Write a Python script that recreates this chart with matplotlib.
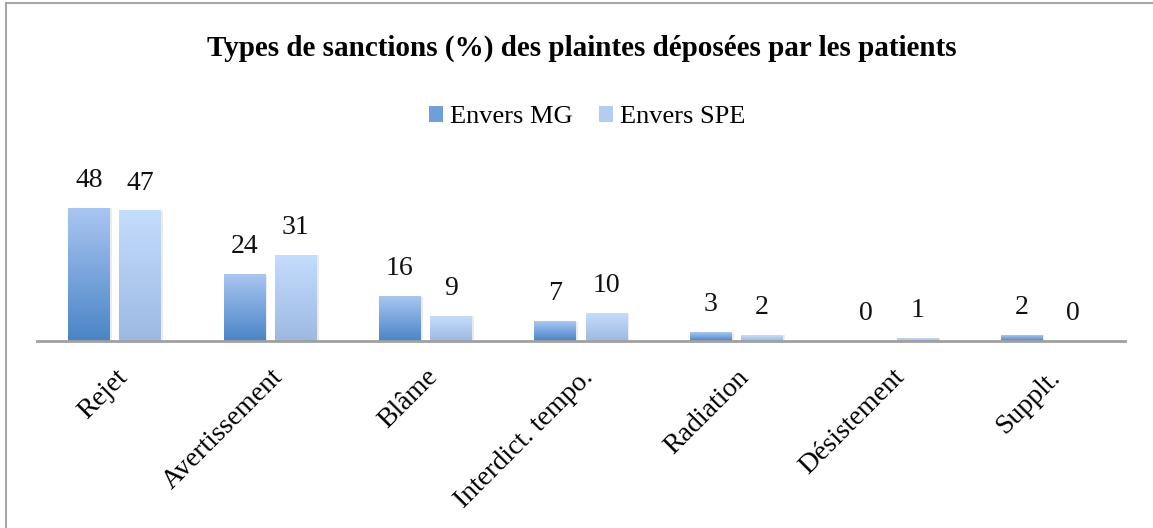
import numpy as np
import matplotlib.pyplot as plt
from matplotlib.colors import LinearSegmentedColormap
from matplotlib.patches import Patch, Rectangle
from matplotlib.lines import Line2D

plt.rcParams['font.family'] = ['Liberation Serif', 'DejaVu Serif']

categories = ['Rejet', 'Avertissement', 'Blâme', 'Interdict. tempo.',
              'Radiation', 'Désistement', 'Supplt.']
envers_mg = [48, 24, 16, 7, 3, 0, 2]
envers_spe = [47, 31, 9, 10, 2, 1, 0]
series_names = ['Envers MG', 'Envers SPE']

W, H = 1153, 528
fig = plt.figure(figsize=(W / 100, H / 100), dpi=100)

# plot area: baseline at y=341px, 2.77 px per unit
ymax = 62
px_per_unit = 2.77
ax_h = ymax * px_per_unit
ax = fig.add_axes([37 / W, (H - 341) / H, 1088 / W, ax_h / H])

cmap_mg = LinearSegmentedColormap.from_list('mg', ['#4a84c6', '#a9c6f2'])
cmap_spe = LinearSegmentedColormap.from_list('spe', ['#9db9e2', '#c4dcfd'])
grad = np.linspace(0, 1, 256).reshape(-1, 1)

x = np.arange(len(categories))
width = 0.27
off = 0.165

for vals, sign, cm in [(envers_mg, -1, cmap_mg), (envers_spe, 1, cmap_spe)]:
    bars = ax.bar(x + sign * off, vals, width, color='none', edgecolor='none')
    for b, v in zip(bars, vals):
        x0 = b.get_x()
        if v > 0:
            # soft shadow
            ax.add_patch(Rectangle((x0 + 0.012, 0), width, v, color='#000000',
                                   alpha=0.08, lw=0, zorder=1))
            ax.imshow(grad, extent=[x0, x0 + width, 0, v], origin='lower',
                      aspect='auto', cmap=cm, zorder=2)
        ax.annotate(str(v), (x0 + width / 2, v), xytext=(0, 20),
                    textcoords='offset points', ha='center', va='center',
                    fontsize=20, color='#111111')

ax.set_xlim(-0.5, len(categories) - 0.5)
ax.set_ylim(0, ymax)
ax.set_xticks(x)
ax.set_xticklabels(categories, rotation=45, ha='right', rotation_mode='anchor',
                   fontsize=20)
ax.tick_params(axis='x', length=0, pad=17)
ax.set_yticks([])
for s in ['top', 'left', 'right']:
    ax.spines[s].set_visible(False)
ax.spines['bottom'].set_color('#a0a0a0')
ax.spines['bottom'].set_linewidth(2)
ax.spines['bottom'].set_zorder(3)
ax.patch.set_alpha(0)

fig.text(582 / W, 1 - 48 / H, 'Types de sanctions (%) des plaintes déposées par les patients',
         ha='center', va='center', fontsize=21, fontweight='bold')

handles = [Patch(facecolor='#6f9fd8', edgecolor='none'),
           Patch(facecolor='#b3cdf2', edgecolor='none')]
fig.legend(handles, series_names, loc='center', bbox_to_anchor=(587 / W, 1 - 117 / H),
           ncol=2, frameon=False, fontsize=19, handlelength=0.55, handleheight=0.55,
           handletextpad=0.25, columnspacing=1.0)

# chart border (only left and top edges fall inside the picture)
fig.add_artist(Line2D([5.5 / W, 5.5 / W], [0, 1 - 3 / H], transform=fig.transFigure,
                      color='#a6a6a6', lw=1.5))
fig.add_artist(Line2D([5.5 / W, 1], [1 - 3 / H, 1 - 3 / H], transform=fig.transFigure,
                      color='#a6a6a6', lw=1.5))

fig.savefig('out.png', dpi=100, facecolor='white')
